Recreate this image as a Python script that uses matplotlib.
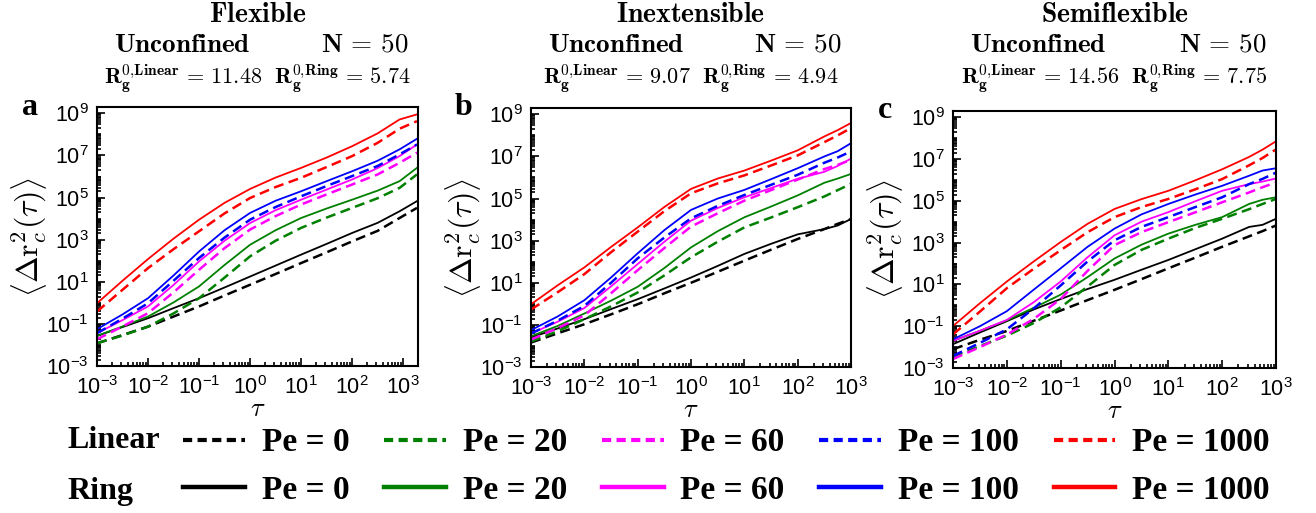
import numpy as np
import matplotlib.pyplot as plt
import matplotlib.transforms as mtransforms
from matplotlib.ticker import LogLocator, LogFormatterSciNotation, NullFormatter
from matplotlib.lines import Line2D

plt.rcParams['font.family'] = 'Liberation Sans'
plt.rcParams['mathtext.fontset'] = 'custom'
plt.rcParams['mathtext.rm'] = 'Liberation Sans'

# data, stored as log10 values
# panel a: Flexible
tau_a = [-3, -2.5, -2, -1.5, -1, -0.5, 0, 0.5, 1, 1.5, 2, 2.5, 2.93, 3.27]
flex = {
    ('lin', 0):    [-1.92, -1.53, -1.13, -0.65, -0.17, 0.35, 0.86, 1.37, 1.89, 2.40, 2.92, 3.42, 4.03, 4.51],
    ('ring', 0):   [-1.57, -1.15, -0.73, -0.25, 0.22, 0.73, 1.25, 1.77, 2.29, 2.80, 3.32, 3.80, 4.35, 4.83],
    ('lin', 20):   [-1.92, -1.55, -1.13, -0.50, 0.22, 1.20, 2.21, 2.95, 3.56, 4.05, 4.51, 4.97, 5.46, 6.10],
    ('ring', 20):  [-1.57, -1.12, -0.65, 0.02, 0.78, 1.80, 2.76, 3.45, 4.03, 4.48, 4.90, 5.33, 5.78, 6.41],
    ('lin', 60):   [-1.73, -1.12, -0.49, 0.50, 1.57, 2.60, 3.48, 4.12, 4.67, 5.15, 5.62, 6.10, 6.65, 7.13],
    ('ring', 60):  [-1.44, -0.82, -0.17, 0.85, 1.97, 2.95, 3.79, 4.40, 4.90, 5.38, 5.86, 6.40, 6.97, 7.52],
    ('lin', 100):  [-1.44, -0.75, -0.02, 1.05, 2.13, 3.10, 3.95, 4.55, 5.06, 5.55, 6.02, 6.50, 7.05, 7.52],
    ('ring', 100): [-1.25, -0.55, 0.22, 1.30, 2.44, 3.45, 4.27, 4.85, 5.30, 5.78, 6.25, 6.75, 7.29, 7.79],
    ('lin', 1000): [-0.41, 0.62, 1.65, 2.55, 3.40, 4.25, 4.98, 5.50, 5.94, 6.45, 6.97, 7.60, 8.27, 8.63],
    ('ring', 1000):[-0.02, 1.05, 2.08, 3.05, 3.95, 4.75, 5.41, 5.95, 6.41, 6.90, 7.44, 8.05, 8.71, 8.95],
}
# panel b: Inextensible
tau_b = [-3, -2.5, -2, -1.5, -1, -0.5, 0, 0.5, 1, 1.5, 2, 2.5, 2.75, 3]
inext = {
    ('lin', 0):    [-1.84, -1.40, -0.97, -0.50, -0.02, 0.50, 1.00, 1.52, 2.05, 2.57, 3.08, 3.55, 3.80, 4.03],
    ('ring', 0):   [-1.60, -1.17, -0.73, -0.25, 0.22, 0.73, 1.25, 1.80, 2.37, 2.85, 3.30, 3.55, 3.72, 4.03],
    ('lin', 20):   [-1.79, -1.30, -0.73, -0.12, 0.54, 1.35, 2.21, 2.95, 3.63, 4.10, 4.59, 5.10, 5.40, 5.70],
    ('ring', 20):  [-1.54, -1.05, -0.46, 0.15, 0.81, 1.70, 2.68, 3.45, 4.11, 4.62, 5.15, 5.75, 5.95, 6.17],
    ('lin', 60):   [-1.70, -1.15, -0.55, 0.50, 1.60, 2.65, 3.67, 4.30, 4.90, 5.40, 5.90, 6.40, 6.60, 6.84],
    ('ring', 60):  [-1.41, -0.85, -0.20, 0.83, 1.89, 2.95, 3.95, 4.55, 5.06, 5.50, 5.94, 6.27, 6.55, 6.90],
    ('lin', 100):  [-1.41, -0.80, -0.10, 1.00, 2.16, 3.15, 4.06, 4.65, 5.17, 5.65, 6.13, 6.70, 6.95, 7.24],
    ('ring', 100): [-1.25, -0.60, 0.17, 1.25, 2.40, 3.50, 4.46, 5.00, 5.41, 5.92, 6.44, 7.00, 7.25, 7.63],
    ('lin', 1000): [-0.27, 0.55, 1.41, 2.45, 3.43, 4.40, 5.25, 5.72, 6.10, 6.57, 7.05, 7.68, 8.00, 8.35],
    ('ring', 1000):[-0.02, 0.88, 1.73, 2.70, 3.63, 4.60, 5.46, 5.95, 6.33, 6.80, 7.29, 7.95, 8.25, 8.59],
}
# panel c: Semiflexible
tau_c = [-3, -2.5, -2, -1.5, -1, -0.5, 0, 0.5, 1, 1.5, 2, 2.5, 2.75, 3]
semi = {
    ('lin', 0):    [-2.10, -1.65, -1.23, -0.74, -0.25, 0.25, 0.74, 1.25, 1.77, 2.28, 2.80, 3.30, 3.55, 3.82],
    ('ring', 0):   [-1.86, -1.30, -0.76, -0.20, 0.30, 0.78, 1.22, 1.70, 2.17, 2.68, 3.19, 3.75, 3.85, 4.14],
    ('lin', 20):   [-2.46, -1.95, -1.45, -0.85, -0.10, 0.90, 1.93, 2.65, 3.19, 3.70, 4.14, 4.60, 4.85, 5.09],
    ('ring', 20):  [-1.70, -1.22, -0.72, -0.12, 0.51, 1.35, 2.24, 2.90, 3.43, 3.85, 4.22, 4.85, 5.05, 5.17],
    ('lin', 60):   [-2.57, -2.00, -1.40, -0.65, 0.30, 1.65, 2.88, 3.50, 3.98, 4.45, 4.93, 5.40, 5.65, 5.88],
    ('ring', 60):  [-1.70, -1.22, -0.70, 0.15, 1.14, 2.30, 3.35, 4.00, 4.46, 4.98, 5.48, 5.80, 5.92, 6.07],
    ('lin', 100):  [-2.42, -1.80, -1.15, -0.15, 0.95, 2.10, 3.11, 3.75, 4.22, 4.70, 5.17, 5.80, 6.05, 6.35],
    ('ring', 100): [-1.63, -1.00, -0.28, 0.75, 1.77, 2.80, 3.67, 4.35, 4.85, 5.30, 5.72, 6.20, 6.45, 6.56],
    ('lin', 1000): [-1.39, -0.30, 0.82, 1.75, 2.64, 3.50, 4.22, 4.70, 5.09, 5.55, 6.04, 6.70, 7.05, 7.46],
    ('ring', 1000):[-0.99, 0.10, 1.14, 2.10, 3.03, 3.90, 4.61, 5.08, 5.48, 5.98, 6.51, 7.10, 7.45, 7.85],
}

pe_values = [0, 20, 60, 100, 1000]
colors = ['black', 'green', 'magenta', 'blue', 'red']
titles = ['Flexible', 'Inextensible', 'Semiflexible']
rg_lin = ['11.48', '9.07', '14.56']
rg_ring = ['5.74', '4.94', '7.75']
letters = ['a', 'b', 'c']

fig = plt.figure(figsize=(13.16, 5.13), dpi=100)
rects = [[0.0737, 0.2865, 0.2439, 0.5049],
         [0.4035, 0.2846, 0.2432, 0.5049],
         [0.7242, 0.2827, 0.2454, 0.5010]]
panels = [(tau_a, flex, 1950), (tau_b, inext, 1000), (tau_c, semi, 1000)]

for i, (tau, data, xmax) in enumerate(panels):
    ax = fig.add_axes(rects[i])
    t = np.power(10.0, tau)
    for pe, col in zip(pe_values, colors):
        ax.plot(t, np.power(10.0, data[('ring', pe)]), color=col, lw=1.3)
        ax.plot(t, np.power(10.0, data[('lin', pe)]), color=col, lw=1.8,
                dashes=(4, 2.2))
    ax.set_xscale('log')
    ax.set_yscale('log')
    ax.set_xlim(1e-3, xmax)
    ax.set_ylim(1e-3, 2e9)
    ax.set_xticks([1e-3, 1e-2, 1e-1, 1, 1e1, 1e2, 1e3])
    ax.set_yticks([1e-3, 1e-1, 1e1, 1e3, 1e5, 1e7, 1e9])
    ax.xaxis.set_major_formatter(LogFormatterSciNotation())
    ax.yaxis.set_major_formatter(LogFormatterSciNotation())
    ax.xaxis.set_minor_locator(LogLocator(base=10, subs=np.arange(2, 10), numticks=30))
    ax.yaxis.set_minor_locator(LogLocator(base=10, subs=np.arange(1, 10), numticks=30))
    ax.xaxis.set_minor_formatter(NullFormatter())
    ax.yaxis.set_minor_formatter(NullFormatter())
    ax.tick_params(which='both', direction='in', top=False, right=False,
                   labelsize=15.5, width=1.2)
    ax.tick_params(which='major', length=6, pad=6)
    ax.tick_params(axis='x', which='major', pad=7)
    ax.tick_params(which='minor', length=3)
    for s in ax.spines.values():
        s.set_linewidth(1.5)
    ax.set_xlabel(r'$\tau$', fontsize=19, labelpad=-1, math_fontfamily='cm')
    ax.set_ylabel(r'$\left\langle \Delta \mathrm{r}_c^2(\tau) \right\rangle$',
                  fontsize=23, labelpad=-3, math_fontfamily='cm')

    tr = mtransforms.blended_transform_factory(ax.transAxes, fig.transFigure)
    ax.text(0.5, 1 - 15 / 513, r'$\mathbf{%s}$' % titles[i], transform=tr,
            ha='center', va='center', fontsize=20, math_fontfamily='cm')
    ax.text(0.265, 1 - 45 / 513, r'$\mathbf{Unconfined}$', transform=tr,
            ha='center', va='center', fontsize=19.5, math_fontfamily='cm')
    ax.text(0.835, 1 - 45 / 513, r'$\mathbf{N\,=\,50}$', transform=tr,
            ha='center', va='center', fontsize=19.5, math_fontfamily='cm')
    ax.text(0.5, 1 - 79 / 513,
            r'$\mathbf{R_g^{0{,}Linear}\,=\,%s}\ \ \mathbf{R_g^{0{,}Ring}\,=\,%s}$'
            % (rg_lin[i], rg_ring[i]), transform=tr,
            ha='center', va='center', fontsize=16, math_fontfamily='cm')
    ax.text(-0.21, 1.0, letters[i], transform=ax.transAxes, ha='center',
            va='center', fontsize=23, fontweight='bold', family='Liberation Serif')

# legend: two rows (Linear dashed / Ring solid), five Pe columns
handles, labels = [], []
for pe, col in zip(pe_values, colors):
    handles.append(Line2D([], [], color=col, lw=3, dashes=(2.2, 1.3)))
    labels.append('Pe = %d' % pe)
    handles.append(Line2D([], [], color=col, lw=3.2))
    labels.append('Pe = %d' % pe)
fig.legend(handles, labels, ncol=5, loc='center', bbox_to_anchor=(0.552, 0.0906),
           frameon=False, handlelength=1.85, handletextpad=0.5, columnspacing=1.05,
           labelspacing=0.5, borderpad=0,
           prop={'family': 'Liberation Serif', 'weight': 'bold', 'size': 24})
fig.text(0.051, 1 - 441 / 513, 'Linear', ha='left', va='center', fontsize=23,
         fontweight='bold', family='Liberation Serif')
fig.text(0.051, 1 - 492 / 513, 'Ring', ha='left', va='center', fontsize=23,
         fontweight='bold', family='Liberation Serif')

fig.savefig('out.png', dpi=100)
